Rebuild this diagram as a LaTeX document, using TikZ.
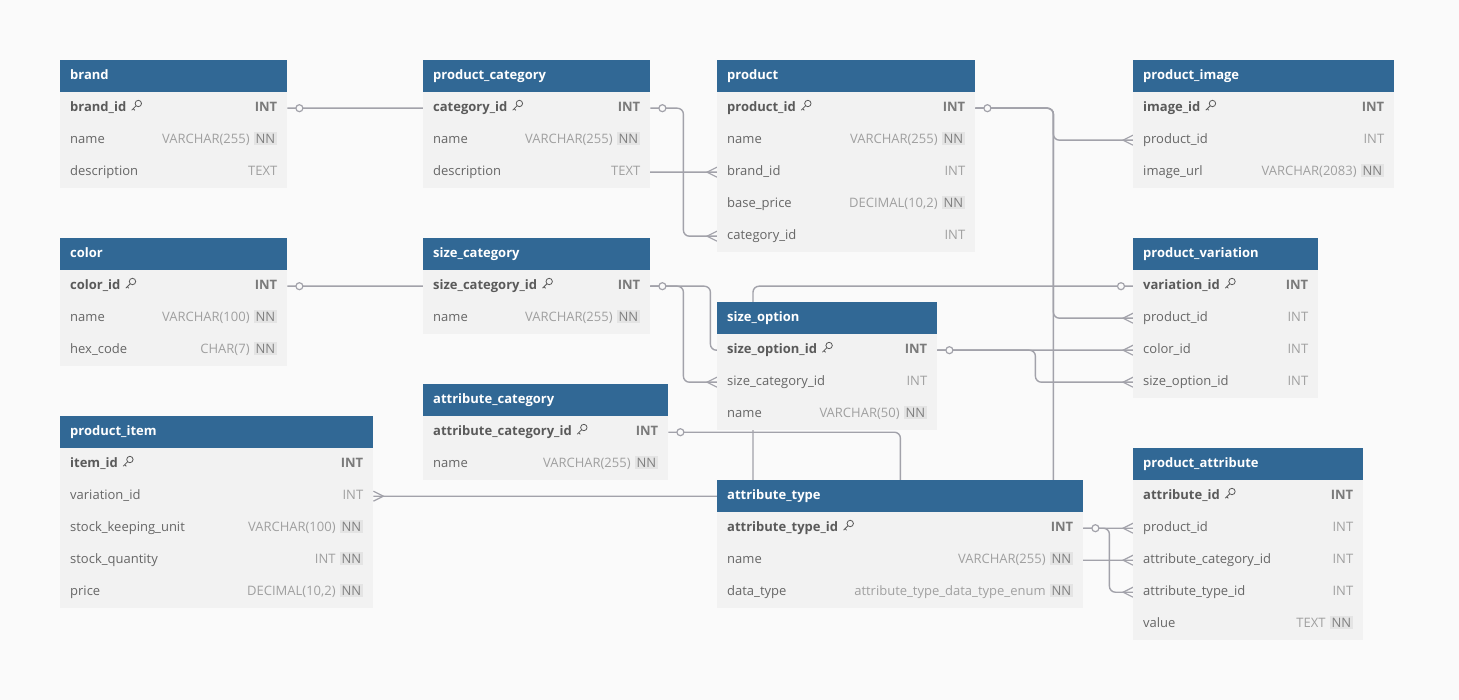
\documentclass[tikz,border=0pt]{standalone}
\usepackage{fontspec}
\setmainfont{Open Sans}
\usetikzlibrary{calc}
\definecolor{bgc}{HTML}{FAFAFA}
\definecolor{hdrblue}{HTML}{316895}
\definecolor{rowbg}{HTML}{F2F2F2}
\definecolor{fieldgray}{HTML}{666666}
\definecolor{typegray}{HTML}{A0A0A0}
\definecolor{pkgray}{HTML}{5A5A5A}
\definecolor{pktype}{HTML}{7A7A7A}
\definecolor{nnbg}{HTML}{E4E4E4}
\definecolor{nntxt}{HTML}{808080}
\definecolor{linegray}{HTML}{A2A2AA}
\pgfdeclarelayer{back}\pgfdeclarelayer{lines}
\pgfsetlayers{back,lines,main}

\newcommand{\dbfont}{\fontsize{13}{15}\selectfont}
\newcommand{\keyicon}{\tikz[x=1pt,y=1pt,baseline=-0.5pt,line width=0.8pt]{\draw[pkgray] (7.2,7.2) circle (3.2); \draw[pkgray] (5,5) -- (0.5,0.5) (2,2) -- (3.6,0.4);}}
\newcommand{\pkf}[1]{\textbf{\color{pkgray}#1}\hspace{5pt}\keyicon}
\newcommand{\pkt}[1]{\textbf{\color{pktype}#1}}
\newcommand{\nn}{\hspace{4pt}{\setlength{\fboxsep}{2pt}\colorbox{nnbg}{\color{nntxt}NN}}}

\tikzset{
  hdr/.style={fill=hdrblue, text=white, font=\dbfont\bfseries, minimum height=32pt, inner xsep=10pt, inner ysep=0pt, anchor=north west, text height=9pt, text depth=3pt},
  rowbox/.style={fill=rowbg, text=fieldgray, font=\dbfont, minimum height=32pt, inner xsep=10pt, inner ysep=0pt, anchor=north west, text height=9pt, text depth=3pt},
  conn/.style={draw=linegray, line width=1.4pt, rounded corners=6pt},
}

% table: id, title, x, y, width, rows
\newcommand{\tbl}[6]{%
  \pgfmathsetmacro{\tw}{#5-20}
  \node[hdr] (#1) at (#3,#4) {\hbox to \tw pt{#2\hfill}};
  \foreach \f/\t [count=\i] in {#6}
    \node[rowbox] (#1-\i) at (#3,#4+32*\i) {\hbox to \tw pt{\f\hfill{\color{typegray}\t}}};
}

\begin{document}
\begin{tikzpicture}[x=1pt, y=-1pt]
  \begin{pgfonlayer}{back}
    \fill[bgc] (0,0) rectangle (1459,700); % page
  \end{pgfonlayer}

  \tbl{brand}{brand}{60}{60}{227}{\pkf{brand\_id}/\pkt{INT}, name/VARCHAR(255)\nn, description/TEXT}
  \tbl{pcat}{product\_category}{423}{60}{227}{\pkf{category\_id}/\pkt{INT}, name/VARCHAR(255)\nn, description/TEXT}
  \tbl{product}{product}{717}{60}{258}{\pkf{product\_id}/\pkt{INT}, name/VARCHAR(255)\nn, brand\_id/INT, base\_price/DECIMAL(10{,}2)\nn, category\_id/INT}
  \tbl{pimg}{product\_image}{1133}{60}{261}{\pkf{image\_id}/\pkt{INT}, product\_id/INT, image\_url/VARCHAR(2083)\nn}
  \tbl{color}{color}{60}{238}{227}{\pkf{color\_id}/\pkt{INT}, name/VARCHAR(100)\nn, hex\_code/CHAR(7)\nn}
  \tbl{scat}{size\_category}{423}{238}{227}{\pkf{size\_category\_id}/\pkt{INT}, name/VARCHAR(255)\nn}
  \tbl{pvar}{product\_variation}{1133}{238}{185}{\pkf{variation\_id}/\pkt{INT}, product\_id/INT, color\_id/INT, size\_option\_id/INT}
  \tbl{sopt}{size\_option}{717}{302}{220}{\pkf{size\_option\_id}/\pkt{INT}, size\_category\_id/INT, name/VARCHAR(50)\nn}
  \tbl{acat}{attribute\_category}{423}{384}{245}{\pkf{attribute\_category\_id}/\pkt{INT}, name/VARCHAR(255)\nn}
  \tbl{pitem}{product\_item}{60}{416}{313}{\pkf{item\_id}/\pkt{INT}, variation\_id/INT, stock\_keeping\_unit/VARCHAR(100)\nn, stock\_quantity/INT\nn, price/DECIMAL(10{,}2)\nn}
  \tbl{atype}{attribute\_type}{717}{480}{366}{\pkf{attribute\_type\_id}/\pkt{INT}, name/VARCHAR(255)\nn, data\_type/attribute\_type\_data\_type\_enum\nn}
  \tbl{pattr}{product\_attribute}{1133}{448}{230}{\pkf{attribute\_id}/\pkt{INT}, product\_id/INT, attribute\_category\_id/INT, attribute\_type\_id/INT, value/TEXT\nn}

  \begin{pgfonlayer}{lines}
    \draw[conn] (brand-1.east) -- ++(250,0) |- (product-3.west);
    \draw[conn] (pcat-1.east) -- ++(33,0) |- (product-5.west);
    \draw[conn] (product-1.east) -- ++(78,0) |- (pimg-2.west);
    \draw[conn] (product-1.east) -- ++(78,0) |- (pvar-2.west);
    \draw[conn] (product-1.east) -- ++(78,0) |- (pattr-2.west);
    \draw[conn] (color-1.east) -- ++(423,0) |- (pvar-3.west);
    \draw[conn] (scat-1.east) -- ++(33,0) |- (sopt-2.west);
    \draw[conn] (sopt-1.east) -- ++(98,0) |- (pvar-4.west);
    \draw[conn] (pvar-1.west) -- ++(-380,0) |- (pitem-2.east);
    \draw[conn] (acat-1.east) -- ++(232,0) |- (pattr-3.west);
    \draw[conn] (atype-1.east) -- ++(26,0) |- (pattr-4.west);
    % one ends
    \foreach \n/\d in {brand-1.east/12, pcat-1.east/12, product-1.east/12, color-1.east/12, scat-1.east/12, sopt-1.east/12, pvar-1.west/-12, acat-1.east/12, atype-1.east/12}
      \draw[conn, line width=1.2pt, fill=bgc] ($(\n)+(\d,0)$) circle (3.5);
    % many ends
    \foreach \n/\d in {product-3.west/-10, product-5.west/-10, pimg-2.west/-10, pvar-2.west/-10, pattr-2.west/-10, pvar-3.west/-10, sopt-2.west/-10, pvar-4.west/-10, pitem-2.east/10, pattr-3.west/-10, pattr-4.west/-10}
      \draw[conn, line width=1.2pt, sharp corners] ($(\n)+(0,5)$) -- ($(\n)+(\d,0)$) -- ($(\n)+(0,-5)$);
  \end{pgfonlayer}
\end{tikzpicture}
\end{document}
